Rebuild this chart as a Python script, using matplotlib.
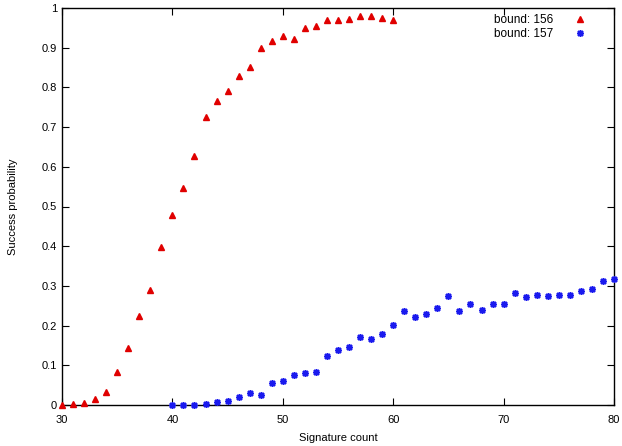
import matplotlib
matplotlib.use('Agg')
import matplotlib.pyplot as plt

plt.rcParams['font.family'] = ['Liberation Sans', 'DejaVu Sans']

# bound 156: signature counts 30..60
sig_156 = list(range(30, 61))
prob_156 = [0.0, 0.002, 0.004, 0.014, 0.033, 0.083, 0.144, 0.223, 0.289, 0.399,
            0.479, 0.547, 0.627, 0.725, 0.766, 0.790, 0.829, 0.852, 0.898, 0.917,
            0.929, 0.922, 0.950, 0.954, 0.969, 0.970, 0.973, 0.979, 0.979, 0.976,
            0.971]

# bound 157: signature counts 40..80
sig_157 = list(range(40, 81))
prob_157 = [0.001, 0.0, 0.001, 0.003, 0.008, 0.011, 0.019, 0.030, 0.025, 0.056,
            0.060, 0.075, 0.081, 0.083, 0.124, 0.139, 0.146, 0.171, 0.167, 0.178,
            0.202, 0.236, 0.222, 0.228, 0.244, 0.275, 0.238, 0.255, 0.239, 0.254,
            0.255, 0.282, 0.272, 0.278, 0.275, 0.278, 0.278, 0.288, 0.291, 0.313,
            0.317]

fig = plt.figure(figsize=(6.22, 4.46), dpi=100)
ax = fig.add_axes([62 / 622, 41 / 446, 552 / 622, 397 / 446])

ax.plot(sig_156, prob_156, linestyle='none', marker='^', markersize=4,
        color='#e00000', label='bound: 156', clip_on=False, zorder=3)
ax.plot(sig_157, prob_157, linestyle='none', marker=(8, 2, 0), markersize=5,
        markeredgewidth=1.1, color='#1a1aee', label='bound: 157',
        clip_on=False, zorder=3)

ax.set_xlim(30, 80)
ax.set_ylim(0, 1)
ax.set_xticks(range(30, 81, 10))
ax.set_yticks([i / 10 for i in range(11)])
ax.set_yticklabels(['0'] + ['0.%d' % i for i in range(1, 10)] + ['1'])
ax.tick_params(direction='in', top=True, right=True, length=5, labelsize=8,
               width=0.8)
ax.tick_params(axis='x', pad=7)
for s in ax.spines.values():
    s.set_linewidth(1)
ax.set_xlabel('Signature count', fontsize=8, labelpad=6)
ax.set_ylabel('Success probability', fontsize=8, labelpad=17)

ax.legend(loc='upper right', bbox_to_anchor=(0.958, 0.99), frameon=False,
          markerfirst=False, fontsize=8.5, handlelength=1.5,
          labelspacing=0.15, borderaxespad=0, handletextpad=1.5,
          borderpad=0.2)

fig.savefig('out.png', dpi=100)
